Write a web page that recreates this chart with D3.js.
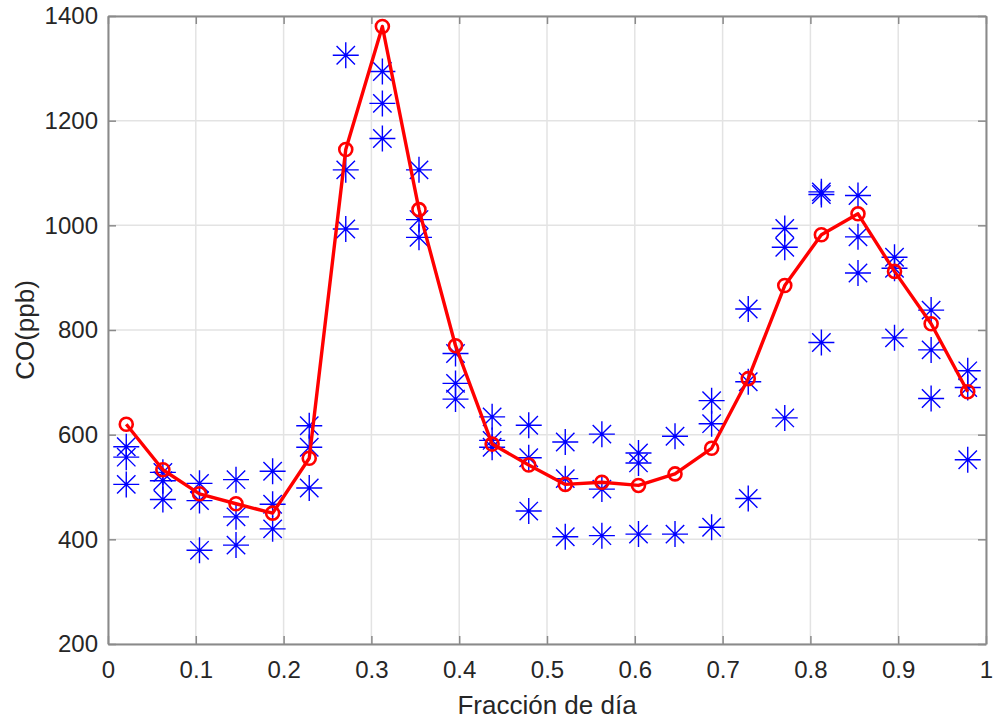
<!DOCTYPE html>
<html>
<head>
<meta charset="utf-8">
<script src="https://cdn.jsdelivr.net/npm/d3@7"></script>
<style>
  html, body { margin: 0; padding: 0; background: #fff; }
  svg { display: block; }
  text { font-family: "Liberation Sans", Arial, Helvetica, sans-serif; fill: #262626; }
</style>
</head>
<body>
<svg id="chart" width="994" height="722"></svg>
<script>
// ---- data ----
const hourFraction = [0.0208, 0.0625, 0.1042, 0.1458, 0.1875, 0.2292, 0.2708, 0.3125,
                      0.3542, 0.3958, 0.4375, 0.4792, 0.5208, 0.5625, 0.6042, 0.6458,
                      0.6875, 0.7292, 0.7708, 0.8125, 0.8542, 0.8958, 0.9375, 0.9792];
const meanCO = [620, 533, 487, 468, 450, 555, 1145, 1380, 1030, 770, 582, 542,
                505, 509, 503, 525, 574, 707, 885, 982, 1022, 912, 812, 682];
const samplesCO = [
  [577, 557, 505], [528, 512, 476], [507, 474, 379], [514, 443, 389],
  [530, 467, 420], [617, 576, 498], [1325, 1106, 993], [1294, 1233, 1166],
  [1106, 1011, 977], [755, 698, 668], [634, 589, 576], [618, 556, 454],
  [586, 516, 405], [601, 496, 407], [565, 546, 410], [597, 410],
  [665, 621, 423], [840, 701, 478], [994, 958, 632], [1064, 1059, 776],
  [1057, 978, 909], [939, 918, 785], [838, 762, 669], [722, 690, 552]
];
const xTicks = [0, 0.1, 0.2, 0.3, 0.4, 0.5, 0.6, 0.7, 0.8, 0.9, 1];
const yTicks = [200, 400, 600, 800, 1000, 1200, 1400];
const xLabel = "Fracción de día";
const yLabel = "CO(ppb)";

// ---- layout ----
const mLeft = 108, mRight = 986, mTop = 16, mBottom = 644;
const svg = d3.select("#chart");
const x = d3.scaleLinear().domain([0, 1]).range([mLeft, mRight]);
const y = d3.scaleLinear().domain([200, 1400]).range([mBottom, mTop]);
const axisColor = "#8a8a8a";

// grid
const grid = svg.append("g");
grid.selectAll("line.gx").data(xTicks).enter().append("line")
  .attr("x1", d => x(d)).attr("x2", d => x(d)).attr("y1", mTop).attr("y2", mBottom)
  .attr("stroke", "#e3e3e3").attr("stroke-width", 1.5);
grid.selectAll("line.gy").data(yTicks).enter().append("line")
  .attr("y1", d => y(d)).attr("y2", d => y(d)).attr("x1", mLeft).attr("x2", mRight)
  .attr("stroke", "#e3e3e3").attr("stroke-width", 1.5);

// axes
const fmtX = d => d === 0 ? "0" : d === 1 ? "1" : d3.format(".1f")(d);
const gx = svg.append("g").attr("transform", `translate(0,${mBottom})`)
  .call(d3.axisBottom(x).tickValues(xTicks).tickFormat(fmtX).tickSizeInner(-8).tickSizeOuter(0).tickPadding(17));
const gy = svg.append("g").attr("transform", `translate(${mLeft},0)`)
  .call(d3.axisLeft(y).tickValues(yTicks).tickFormat(d3.format("d")).tickSizeInner(-8).tickSizeOuter(0).tickPadding(10));
const gxt = svg.append("g").attr("transform", `translate(0,${mTop})`)
  .call(d3.axisTop(x).tickValues(xTicks).tickFormat("").tickSizeInner(-8).tickSizeOuter(0));
const gyr = svg.append("g").attr("transform", `translate(${mRight},0)`)
  .call(d3.axisRight(y).tickValues(yTicks).tickFormat("").tickSizeInner(-8).tickSizeOuter(0));
[gx, gy, gxt, gyr].forEach(g => {
  g.select(".domain").attr("stroke", axisColor).attr("stroke-width", 2);
  g.selectAll(".tick line").attr("stroke", axisColor).attr("stroke-width", 1.5);
  g.selectAll(".tick text").attr("fill", "#262626").style("font-size", "24px")
    .style("font-family", '"Liberation Sans", Arial, sans-serif');
});
// labels
svg.append("text").attr("x", (mLeft + mRight) / 2).attr("y", 714)
  .attr("text-anchor", "middle").style("font-size", "26px").text(xLabel);
svg.append("text").attr("transform", `translate(34,${(mTop + mBottom) / 2}) rotate(-90)`)
  .attr("text-anchor", "middle").style("font-size", "26px").text(yLabel);

// star markers
const pts = [];
samplesCO.forEach((arr, i) => arr.forEach(v => pts.push({ h: hourFraction[i], v })));
const plotG = svg.append("g");
const a = 13, dgl = 9.2;
const star = `M${-a},0L${a},0M0,${-a}L0,${a}M${-dgl},${-dgl}L${dgl},${dgl}M${-dgl},${dgl}L${dgl},${-dgl}`;
plotG.selectAll("path.star").data(pts).enter().append("path")
  .attr("d", star)
  .attr("transform", d => `translate(${x(d.h)},${y(d.v)})`)
  .attr("fill", "none").attr("stroke", "#0000ff").attr("stroke-width", 1.4);

// mean line
const meanData = hourFraction.map((h, i) => ({ h, v: meanCO[i] }));
plotG.append("path").datum(meanData)
  .attr("d", d3.line().x(d => x(d.h)).y(d => y(d.v)))
  .attr("fill", "none").attr("stroke", "#ff0000").attr("stroke-width", 3.4)
  .attr("stroke-linejoin", "round");
plotG.selectAll("circle.m").data(meanData).enter().append("circle")
  .attr("cx", d => x(d.h)).attr("cy", d => y(d.v)).attr("r", 6.5)
  .attr("fill", "none").attr("stroke", "#ff0000").attr("stroke-width", 2.6);
</script>
</body>
</html>
